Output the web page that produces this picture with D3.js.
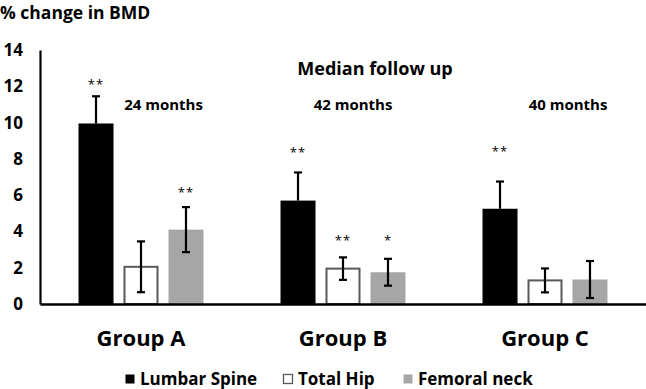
<!DOCTYPE html>
<html><head><meta charset="utf-8">
<script src="https://cdn.jsdelivr.net/npm/d3@7"></script>
<style>
body{margin:0;background:#fff;}
text{font-family:"Open Sans",sans-serif;font-weight:bold;fill:#000;}
</style></head>
<body><svg id="c" width="646" height="389"></svg>
<script>
const groups = ["Group A","Group B","Group C"];
const series = ["Lumbar Spine","Total Hip","Femoral neck"];
const lumbar = [9.95, 5.7, 5.25];
const hip = [2.05, 1.95, 1.3];
const neck = [4.1, 1.75, 1.35];
const lumbarErr = [1.5, 1.55, 1.5];
const hipErr = [1.4, 0.62, 0.66];
const neckErr = [1.24, 0.74, 1.02];
const stars = [["**","","**"],["**","**","*"],["**","",""]];
const starLevel = [[12.24,0,6.28],[8.49,3.64,3.64],[8.54,0,0]];
const followUp = ["24 months","42 months","40 months"];
const yTicks = [0,2,4,6,8,10,12,14];

const svg = d3.select("#c");
const y = d3.scaleLinear().domain([0,14]).range([304,50]);
const x0 = d3.scaleBand().domain(groups).range([40,646]);
const x1 = d3.scaleBand().domain(series).range([0,x0.bandwidth()]).paddingInner(0.222).paddingOuter(0.856);
const fills = {"Lumbar Spine":"#000","Total Hip":"#fff","Femoral neck":"#a6a6a6"};
const strokes = {"Lumbar Spine":"#000","Total Hip":"#595959","Femoral neck":"#a6a6a6"};
const vals = [lumbar, hip, neck], errs = [lumbarErr, hipErr, neckErr];

const data = [];
groups.forEach((g,gi)=>series.forEach((s,si)=>data.push({g,gi,s,si,v:vals[si][gi],e:errs[si][gi],star:stars[gi][si],sl:starLevel[gi][si]})));

// bars
svg.selectAll("rect.bar").data(data).join("rect")
  .attr("x",d=>x0(d.g)+x1(d.s)+(d.si===1?1:0))
  .attr("y",d=>y(d.v))
  .attr("width",d=>x1.bandwidth()-(d.si===1?2:0))
  .attr("height",d=>y(0)-y(d.v))
  .attr("fill",d=>fills[d.s])
  .attr("stroke",d=>d.si===1?strokes[d.s]:"none")
  .attr("stroke-width",2);

// error bars
const eg = svg.selectAll("g.err").data(data).join("g")
  .attr("transform",d=>`translate(${x0(d.g)+x1(d.s)+x1.bandwidth()/2},0)`);
eg.append("line").attr("y1",d=>y(d.v+d.e)).attr("y2",d=>d.si===0?y(d.v):y(d.v-d.e)).attr("stroke","#000").attr("stroke-width",2.2);
eg.append("line").attr("x1",-4).attr("x2",4).attr("y1",d=>y(d.v+d.e)).attr("y2",d=>y(d.v+d.e)).attr("stroke","#000").attr("stroke-width",2.2);
eg.filter(d=>d.si!==0).append("line").attr("x1",-4).attr("x2",4).attr("y1",d=>y(d.v-d.e)).attr("y2",d=>y(d.v-d.e)).attr("stroke","#000").attr("stroke-width",2.2);

// stars
svg.selectAll("text.star").data(data.filter(d=>d.star)).join("text")
  .attr("x",d=>x0(d.g)+x1(d.s)+x1.bandwidth()/2)
  .attr("y",d=>y(d.sl)+7)
  .attr("text-anchor","middle").style("font-size","13px").style("font-weight","normal").style("letter-spacing","1px")
  .text(d=>d.star);

// axes
const yAxis = d3.axisLeft(y).tickValues(yTicks).tickSize(0).tickFormat(d3.format("d"));
const ya = svg.append("g").attr("transform","translate(40,0)").call(yAxis);
ya.select(".domain").attr("stroke","#000").attr("stroke-width",2.2);
ya.selectAll("text").attr("x",-17).style("font-size","17px").style("font-family","'Open Sans',sans-serif").attr("fill","#000");

const xAxis = d3.axisBottom(x0).tickSize(0).tickSizeOuter(0);
const xa = svg.append("g").attr("transform","translate(0,304)").call(xAxis);
xa.select(".domain").attr("stroke","#000").attr("stroke-width",2.5);
xa.selectAll("text").attr("y",26).style("font-size","22px").style("font-family","'Open Sans',sans-serif").attr("fill","#000");

// titles
svg.append("text").attr("x",0).attr("y",19).style("font-size","17.5px").text("% change in BMD");
svg.append("text").attr("x",x0("Group B")+x0.bandwidth()/2+32).attr("y",75).attr("text-anchor","middle").style("font-size","18px").text("Median follow up");
svg.selectAll("text.fu").data(followUp).join("text")
  .attr("x",(d,i)=>x0(groups[i])+x0.bandwidth()/2+[22.5,10,23][i])
  .attr("y",110).attr("text-anchor","middle").style("font-size","15px").text(d=>d);

// legend
const legX = [125,283,403];
const lg = svg.selectAll("g.leg").data(series).join("g").attr("transform",(d,i)=>`translate(${legX[i]},374)`);
lg.append("rect").attr("x",0.5).attr("y",0.5).attr("width",9).attr("height",9)
  .attr("fill",d=>fills[d]).attr("stroke",d=>d==="Total Hip"?"#595959":"none").attr("stroke-width",1.3);
lg.append("text").attr("x",15).attr("y",10.5).style("font-size","17px").text(d=>d);
</script></body></html>
